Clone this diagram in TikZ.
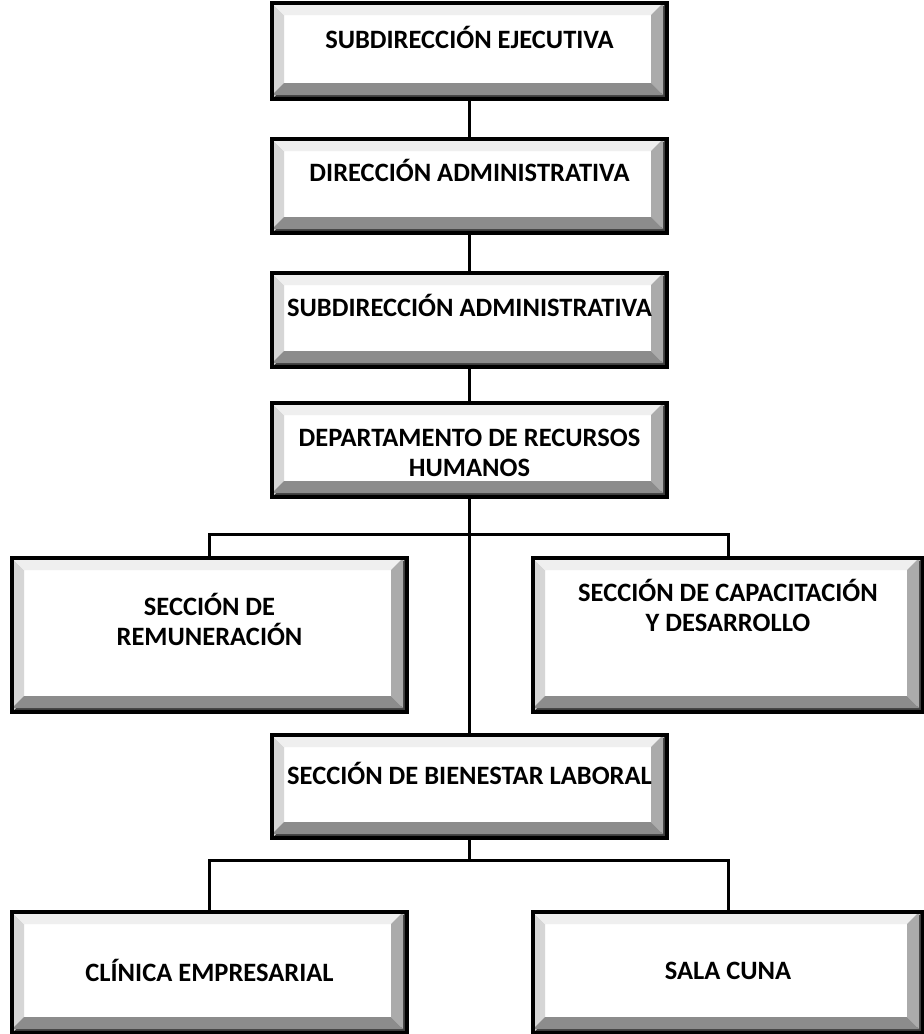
\documentclass[tikz,border=0pt]{standalone}
\usepackage{fontspec}
\setmainfont{Carlito}
\usetikzlibrary{calc}

\definecolor{bevtop}{HTML}{EFEFEF}
\definecolor{bevleft}{HTML}{D6D6D6}
\definecolor{bevright}{HTML}{ABABAB}
\definecolor{bevbottom}{HTML}{8C8C8C}
\definecolor{bevshadow}{HTML}{3C3C3C}

\begin{document}
\begin{tikzpicture}[
  x=1pt, y=-1pt,
  box/.style={draw=black,line width=3.5pt,fill=white,minimum width=395pt,inner sep=0pt,
    path picture={
      \path (path picture bounding box.south west) coordinate (bsw)
            (path picture bounding box.south east) coordinate (bse)
            (path picture bounding box.north west) coordinate (bnw)
            (path picture bounding box.north east) coordinate (bne);
      \fill[bevshadow] (bsw) rectangle ($(bse)+(0pt,6pt)$);
      \fill[bevshadow] (bse) rectangle ($(bne)+(-6pt,0pt)$);
      \fill[bevleft] (bsw) -- ($(bsw)+(12pt,12pt)$) -- ($(bnw)+(12pt,-12pt)$) -- (bnw) -- cycle;
      \fill[bevtop] (bnw) -- ($(bnw)+(12pt,-12pt)$) -- ($(bne)+(-16pt,-12pt)$) -- (bne) -- cycle;
      \fill[bevright] ($(bne)+(-4pt,0pt)$) -- ($(bne)+(-16pt,-12pt)$) -- ($(bse)+(-16pt,16pt)$) -- ($(bse)+(-4pt,4pt)$) -- cycle;
      \fill[bevbottom] ($(bse)+(-4pt,4pt)$) -- ($(bse)+(-16pt,16pt)$) -- ($(bsw)+(12pt,16pt)$) -- ($(bsw)+(0pt,4pt)$) -- cycle;
    }},
  lbl/.style={font=\fontsize{26.5}{30}\selectfont\bfseries,align=center,inner sep=0pt},
  link/.style={draw=black,line width=3pt}
]
\useasboundingbox (0,0) rectangle (924,1034);

% boxes
\node[box,minimum height=96pt] (subej) at (469.5,51) {};
\node[box,minimum height=94pt] (dira) at (469.5,186) {};
\node[box,minimum height=94pt] (subad) at (469.5,320) {};
\node[box,minimum height=94pt] (deprh) at (469.5,450) {};
\node[box,minimum height=154pt] (remun) at (209.5,635) {};
\node[box,minimum height=154pt,minimum width=390pt] (capac) at (728,635) {};
\node[box,minimum height=103pt] (bienes) at (469.5,786.5) {};
\node[box,minimum height=121pt] (clinica) at (209.5,972.5) {};
\node[box,minimum height=121pt,minimum width=390pt] (salacuna) at (728,972.5) {};

% texts
\node[lbl] (subej-t) at ([yshift=14pt]subej.center) {SUBDIRECCIÓN EJECUTIVA};
\node[lbl] (dira-t) at ([yshift=16pt]dira.center) {DIRECCIÓN ADMINISTRATIVA};
\node[lbl] (subad-t) at ([yshift=15pt]subad.center) {SUBDIRECCIÓN ADMINISTRATIVA};
\node[lbl] (deprh-t) at ([yshift=-3pt]deprh.center) {DEPARTAMENTO DE RECURSOS\\HUMANOS};
\node[lbl] (remun-t) at ([yshift=16pt]remun.center) {SECCIÓN DE\\REMUNERACIÓN};
\node[lbl] (capac-t) at ([yshift=30pt]capac.center) {SECCIÓN DE CAPACITACIÓN\\Y DESARROLLO};
\node[lbl] (bienes-t) at ([yshift=13pt]bienes.center) {SECCIÓN DE BIENESTAR LABORAL};
\node[lbl] (clinica-t) at ([yshift=2pt]clinica.center) {CLÍNICA EMPRESARIAL};
\node[lbl] (salacuna-t) at ([yshift=2pt]salacuna.center) {SALA CUNA};

% connectors
\coordinate (split1) at (469.5,534);
\coordinate (split2) at (469.5,860);
\draw[link] (subej) -- (dira);
\draw[link] (dira) -- (subad);
\draw[link] (subad) -- (deprh);
\draw[link] (deprh) -- (bienes);
\draw[link] (remun.north) |- (split1) -| (capac.north);
\draw[link] (bienes) -- (split2);
\draw[link] (clinica.north) |- (split2) -| (salacuna.north);
\end{tikzpicture}
\end{document}
